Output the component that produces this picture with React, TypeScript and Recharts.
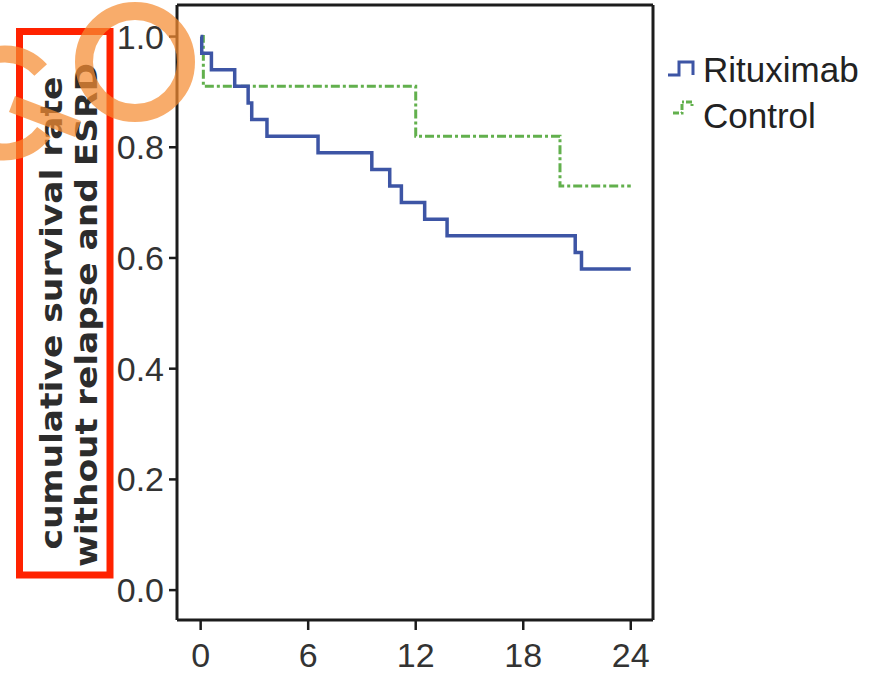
import { LineChart, Line, XAxis, YAxis, ReferenceLine, Legend } from "recharts";

// Kaplan-Meier steps (months, cumulative survival)
const rituximabMonths = [0, 0.06, 0.6, 1.9, 2.65, 2.85, 3.7, 6.55, 9.55, 10.55, 11.2, 12.5, 13.75, 20.9, 21.25, 24];
const rituximabSurvival = [1.0, 0.97, 0.94, 0.91, 0.88, 0.85, 0.82, 0.79, 0.76, 0.73, 0.7, 0.67, 0.64, 0.61, 0.58, 0.58];
const controlMonths = [0, 0.15, 12.0, 20.05, 24];
const controlSurvival = [1.0, 0.91, 0.82, 0.73, 0.73];

const monthTicks = [0, 6, 12, 18, 24];
const survivalTicks = [0, 0.2, 0.4, 0.6, 0.8, 1.0];
const seriesNames = ["Rituximab", "Control"];
const yTitleLines = ["cumulative survival rate", "without relapse and ESRD"];

const BLUE = "#3d55a5";
const GREEN = "#62b04d";
const INK = "#1c1c1c";
const ORANGE = "rgba(245,140,50,0.72)";

// axis bounds so the frame sits where the original one does
const X_MIN = -1.32;
const X_MAX = 25.24;
const Y_MIN = -0.054;
const Y_MAX = 1.057;

const rituximabData = rituximabMonths.map((m, i) => ({ month: m, surv: rituximabSurvival[i] }));
const controlData = controlMonths.map((m, i) => ({ month: m, surv: controlSurvival[i] }));

function YTitle() {
  return (
    <g fontFamily="DejaVu Sans" fontWeight="bold" fontSize={30} fill="#2c2c2c">
      <text
        transform="rotate(-90)"
        x={-313}
        y={62}
        textAnchor="middle"
        textLength={473}
        lengthAdjust="spacingAndGlyphs"
      >
        {yTitleLines[0]}
      </text>
      <text
        transform="rotate(-90)"
        x={-315}
        y={97}
        textAnchor="middle"
        textLength={504}
        lengthAdjust="spacingAndGlyphs"
      >
        {yTitleLines[1]}
      </text>
    </g>
  );
}

function KmLegend() {
  return (
    <svg width={212} height={100}>
      <path d="M4 25 H15 V12 H29 V25" fill="none" stroke={BLUE} strokeWidth={3} />
      <text x={39} y={32} fontSize={35} fill="#222" fontFamily="Liberation Sans">
        {seriesNames[0]}
      </text>
      <path
        d="M9 63 H18 V52 H28 V57"
        fill="none"
        stroke={GREEN}
        strokeWidth={3}
        strokeDasharray="6 2 2 2"
      />
      <text x={39} y={78} fontSize={35} fill="#222" fontFamily="Liberation Sans">
        {seriesNames[1]}
      </text>
    </svg>
  );
}

export default function App() {
  return (
    <div style={{ position: "absolute", left: 0, top: 0, width: 876, height: 678, background: "#fff" }}>
      <LineChart
        width={876}
        height={678}
        margin={{ top: 5, right: 223, bottom: 0, left: 0 }}
        style={{ fontFamily: "Liberation Sans" }}
      >
        <XAxis
          dataKey="month"
          type="number"
          domain={[X_MIN, X_MAX]}
          ticks={monthTicks}
          allowDataOverflow
          height={58}
          tickSize={10}
          tickMargin={13}
          axisLine={{ stroke: INK, strokeWidth: 3 }}
          tickLine={{ stroke: INK, strokeWidth: 2.5 }}
          tick={{ fontSize: 34, fill: "#333" }}
        />
        <YAxis
          type="number"
          domain={[Y_MIN, Y_MAX]}
          ticks={survivalTicks}
          allowDataOverflow
          width={177}
          tickSize={8}
          tickMargin={5}
          tickFormatter={(v: number) => v.toFixed(1)}
          axisLine={{ stroke: INK, strokeWidth: 3 }}
          tickLine={{ stroke: INK, strokeWidth: 2.5 }}
          tick={{ fontSize: 34, fill: "#333" }}
          label={<YTitle />}
        />
        <ReferenceLine x={X_MAX} stroke={INK} strokeWidth={3} />
        <ReferenceLine y={Y_MAX} stroke={INK} strokeWidth={3} />
        <Legend
          layout="vertical"
          align="center"
          verticalAlign="middle"
          content={<KmLegend />}
          wrapperStyle={{ left: 664, top: 50, width: 212, height: 100 }}
        />
        <Line
          data={controlData}
          dataKey="surv"
          name={seriesNames[1]}
          type="stepAfter"
          stroke={GREEN}
          strokeWidth={3}
          strokeDasharray="9 3 3 3"
          dot={false}
          isAnimationActive={false}
        />
        <Line
          data={rituximabData}
          dataKey="surv"
          name={seriesNames[0]}
          type="stepAfter"
          stroke={BLUE}
          strokeWidth={3.5}
          dot={false}
          isAnimationActive={false}
        />
      </LineChart>
      {/* hand-drawn markup on top of the figure */}
      <svg
        width={876}
        height={678}
        style={{ position: "absolute", left: 0, top: 0, pointerEvents: "none" }}
      >
        <rect x={19.5} y={31.5} width={90.5} height={543.5} fill="none" stroke="#ff2200" strokeWidth={7} />
        <circle cx={135} cy={62} r={51} fill="none" stroke={ORANGE} strokeWidth={18} />
        <path d="M40.7 70 A49 49 0 1 0 44 132" fill="none" stroke={ORANGE} strokeWidth={17} />
        <path d="M12 104 L78 129" fill="none" stroke={ORANGE} strokeWidth={17} />
      </svg>
    </div>
  );
}
